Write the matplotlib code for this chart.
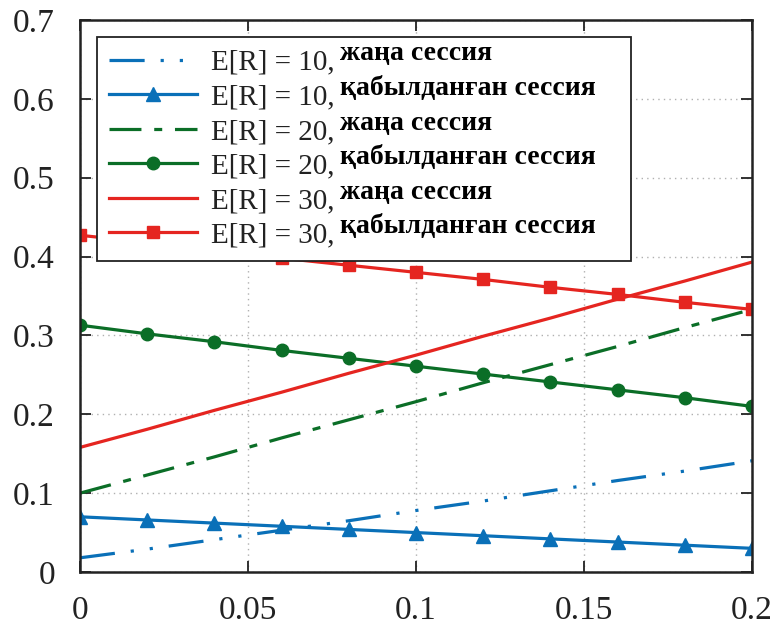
import numpy as np
import matplotlib.pyplot as plt

# arrival probability axis
p = [0.0, 0.02, 0.04, 0.06, 0.08, 0.10, 0.12, 0.14, 0.16, 0.18, 0.20]

new_10 = [0.018, 0.029, 0.041, 0.053, 0.065, 0.078, 0.090, 0.103, 0.116, 0.128, 0.141]
acc_10 = [0.070, 0.066, 0.062, 0.058, 0.054, 0.050, 0.046, 0.042, 0.038, 0.034, 0.030]
new_20 = [0.100, 0.123, 0.146, 0.170, 0.193, 0.216, 0.240, 0.263, 0.286, 0.310, 0.333]
acc_20 = [0.313, 0.302, 0.292, 0.281, 0.271, 0.261, 0.251, 0.241, 0.231, 0.221, 0.210]
new_30 = [0.158, 0.181, 0.205, 0.228, 0.252, 0.275, 0.299, 0.322, 0.346, 0.369, 0.393]
acc_30 = [0.427, 0.418, 0.408, 0.398, 0.389, 0.380, 0.371, 0.361, 0.352, 0.342, 0.333]

prefixes = ['E[R] = 10,', 'E[R] = 10,', 'E[R] = 20,', 'E[R] = 20,', 'E[R] = 30,', 'E[R] = 30,']
suffixes = ['жаңа сессия', 'қабылданған сессия'] * 3

xticks = [0, 0.05, 0.1, 0.15, 0.2]
xticklabels = ['0', '0.05', '0.1', '0.15', '0.2']
yticks = [0, 0.1, 0.2, 0.3, 0.4, 0.5, 0.6, 0.7]
yticklabels = ['0', '0.1', '0.2', '0.3', '0.4', '0.5', '0.6', '0.7']

blue = '#0a70b8'
green = '#0b6e27'
red = '#e52520'

plt.rcParams['font.family'] = ['Liberation Serif', 'DejaVu Serif']

fig = plt.figure(figsize=(7.84, 6.32), dpi=100)
ax = fig.add_axes([80 / 784, 60 / 632, 672 / 784, 552 / 632])

lw = 2.3
pad = '\u2002' * 19 + '\u2009'
ax.plot(p, new_10, color=blue, lw=lw, dashes=(11, 5, 1, 5, 1, 5), label=prefixes[0] + pad)
ax.plot(p, acc_10, color=blue, lw=lw, marker='^', ms=9.5, label=prefixes[1] + pad)
ax.plot(p, new_20, color=green, lw=lw, dashes=(10, 4, 2.5, 4), label=prefixes[2] + pad)
ax.plot(p, acc_20, color=green, lw=lw, marker='o', ms=9, label=prefixes[3] + pad)
ax.plot(p, new_30, color=red, lw=lw, label=prefixes[4] + pad)
ax.plot(p, acc_30, color=red, lw=lw, marker='s', ms=9, label=prefixes[5] + pad)

ax.set_xlim(0, 0.2)
ax.set_ylim(0, 0.7)
ax.set_xticks(xticks)
ax.set_xticklabels(xticklabels)
ax.set_yticks(yticks)
ax.set_yticklabels(yticklabels)
ax.tick_params(direction='in', length=8, width=1.3, top=True, right=True,
               labelsize=24, colors='#222222')
ax.tick_params(axis='y', pad=18)
ax.tick_params(axis='x', pad=17)
for s in ax.spines.values():
    s.set_linewidth(1.8)
    s.set_color('#222222')
ax.grid(True, linestyle=(0, (1, 3)), color='#b0b0b0', lw=1.0)
ax.set_axisbelow(True)

leg_fs = 21
leg = ax.legend(loc='upper left', bbox_to_anchor=(0.0253, 0.969), fontsize=leg_fs,
                handlelength=3.0, handletextpad=0.5, labelspacing=0.28,
                borderpad=0.42, borderaxespad=0, frameon=True, fancybox=False,
                framealpha=1)
leg.get_frame().set_edgecolor('#222222')
leg.get_frame().set_linewidth(1.3)
for t in leg.get_texts():
    t.set_color('#222222')

# bold Kazakh part of each legend entry, set right after the "E[R] = .." text
fig.canvas.draw()
renderer = fig.canvas.get_renderer()
inv = fig.transFigure.inverted()
em = leg_fs * fig.dpi / 72
for txt, prefix, suffix in zip(leg.get_texts(), prefixes, suffixes):
    bb = txt.get_window_extent(renderer)
    probe = fig.text(0, 0, prefix, fontsize=leg_fs)
    w = probe.get_window_extent(renderer).width
    probe.remove()
    baseline = bb.y0 + 0.216 * em
    x0, y0 = inv.transform((bb.x0 + w + 5, baseline + 9))
    fig.text(x0, y0, suffix, fontsize=20, fontweight='bold', va='baseline', ha='left',
             color='black')

fig.savefig('out.png', dpi=100)
